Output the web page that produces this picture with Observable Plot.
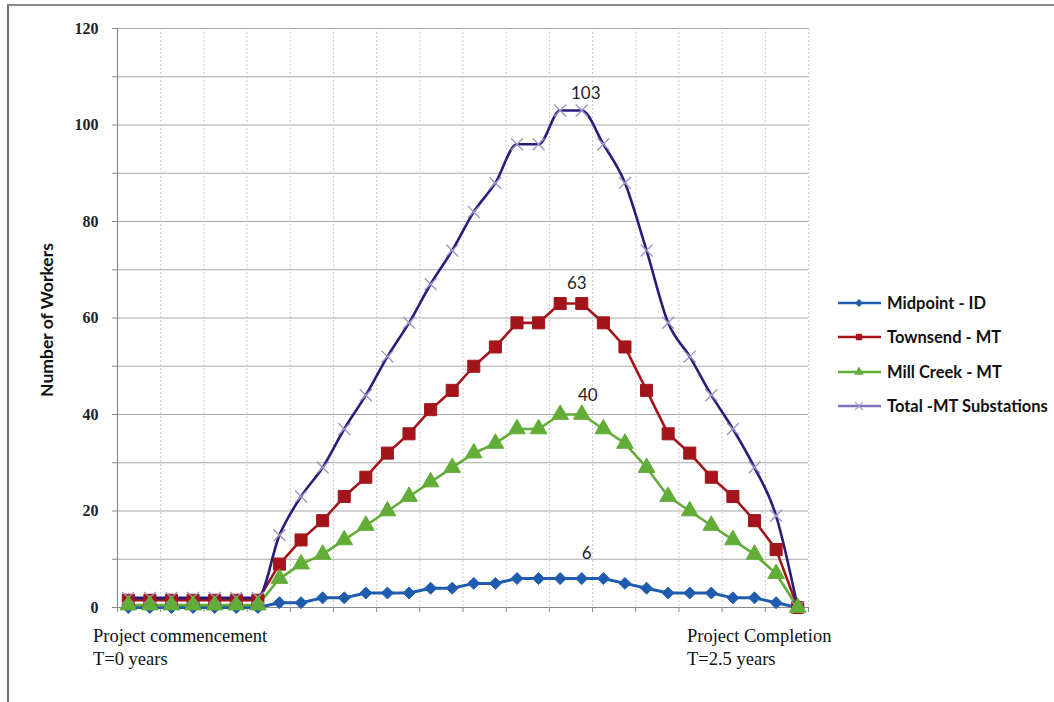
<!DOCTYPE html>
<html>
<head>
<meta charset="utf-8">
<script src="https://cdn.jsdelivr.net/npm/d3@7"></script>
<script src="https://cdn.jsdelivr.net/npm/@observablehq/plot@0.6"></script>
<style>
  html, body { margin: 0; padding: 0; background: #fff; }
  #wrap { position: relative; width: 1054px; height: 702px; overflow: hidden; background: #fff; }
  #frame { position: absolute; left: 7px; top: 4px; width: 1060px; height: 710px; border-left: 2px solid #6f6f6f; border-top: 2px solid #8a8a8a; box-sizing: border-box; }
  #chart { position: absolute; left: 0; top: 0; }
  .ann { position: absolute; font-family: "Liberation Serif", "DejaVu Serif", serif; font-size: 18.5px; color: #111; line-height: 23px; white-space: nowrap; }
  #ytitle { position: absolute; left: 46px; top: 320px; transform: translate(-50%, -50%) rotate(-90deg); font-family: Lato, "Open Sans", sans-serif; font-weight: bold; font-size: 17.5px; color: #111; white-space: nowrap; }
  #legend { position: absolute; left: 838px; top: 286px; font-family: Lato, "Open Sans", sans-serif; font-weight: bold; font-size: 16.5px; color: #111; }
  .li { display: flex; align-items: center; height: 34.3px; white-space: nowrap; }
  .li svg { margin-right: 5px; }
</style>
</head>
<body>
<div id="wrap">
  <div id="frame"></div>
  <div id="chart"></div>
  <div id="ytitle">Number of Workers</div>
  <div class="ann" style="left:93px; top:625px;">Project commencement<br>T=0 years</div>
  <div class="ann" style="left:687px; top:625px;">Project Completion<br>T=2.5 years</div>
  <div id="legend"></div>
</div>
<script>
// ---- data ----
const periods = d3.range(32); // 32 evenly spaced periods from T=0 to T=2.5 years
const midpoint  = [0,0,0,0,0,0,0, 1,1,2,2,3,3,3,4,4,5,5,6,6,6,6,6,5,4,3,3,3,2,2,1,0];
const townsend  = [1.5,1.5,1.5,1.5,1.5,1.5,1.5, 9,14,18,23,27,32,36,41,45,50,54,59,59,63,63,59,54,45,36,32,27,23,18,12,0];
const millCreek = [0.5,0.5,0.5,0.5,0.5,0.5,0.5, 6,9,11,14,17,20,23,26,29,32,34,37,37,40,40,37,34,29,23,20,17,14,11,7,0];
const totalMT   = [2,2,2,2,2,2,2, 15,23,29,37,44,52,59,67,74,82,88,96,96,103,103,96,88,74,59,52,44,37,29,19,0];
const seriesNames = ["Midpoint - ID", "Townsend - MT", "Mill Creek - MT", "Total -MT Substations"];
const yTickLabels = [0, 20, 40, 60, 80, 100, 120];
const yGridValues = [0, 10, 20, 30, 40, 50, 60, 70, 80, 90, 100, 110, 120];
const peakIndex = 21;
const peakLabels = [6, 63, 40, 103];

// ---- build table ----
const valuesBySeries = [midpoint, townsend, millCreek, totalMT];
const styles = [
  {stroke: "#1f5cb0", fill: "#1f5cb0", symbol: "diamond2", r: 5.4, curve: "linear", sw: 3},
  {stroke: "#a3151b", fill: "#a3151b", symbol: "square", r: 6.8, curve: "linear", sw: 2.6},
  {stroke: "#62ac38", fill: "#62ac38", symbol: "triangle", r: 6.2, curve: "linear", sw: 2.6},
  {stroke: "#2c1c7a", fill: "none", symbol: "times", r: 5.5, curve: "monotone-x", sw: 2.6, mstroke: "#9d95c9"}
];
const rows = valuesBySeries.map((vals, s) => periods.map(i => ({i, v: vals[i], s: seriesNames[s]})));
const xGrid = d3.range(-0.5, 32, 2);

const marks = [
  Plot.ruleY(yGridValues, {stroke: "#a9a9a9", strokeWidth: 1}),
  Plot.ruleX(xGrid, {stroke: "#cbcbcb", strokeWidth: 1, strokeDasharray: "2,2"}),
  Plot.axisX({ticks: xGrid, tickSize: 5, tickFormat: () => "", stroke: "#8a8a8a", label: null}),
  Plot.axisY({ticks: yGridValues, tickSize: 5, tickFormat: () => "", stroke: "#8a8a8a", label: null}),
  Plot.axisY({ticks: yTickLabels, tickSize: 0, tickPadding: 19, label: null,
    fontFamily: "Liberation Serif, serif", fontWeight: "bold", fontSize: 16, fill: "#222"}),
  Plot.ruleX([-0.5], {stroke: "#8a8a8a", strokeWidth: 1.2}),
  Plot.ruleY([0], {stroke: "#8a8a8a", strokeWidth: 1.2})
];
rows.forEach((data, s) => {
  const st = styles[s];
  marks.push(Plot.line(data, {x: "i", y: "v", stroke: st.stroke, strokeWidth: st.sw, curve: st.curve}));
});
[0, 1, 3, 2].forEach(s => {
  const st = styles[s];
  if (st.symbol === "times") {
    marks.push(Plot.dot(rows[s], {x: "i", y: "v", symbol: "times", r: st.r, stroke: st.mstroke, strokeWidth: 1.4}));
  } else {
    marks.push(Plot.dot(rows[s], {x: "i", y: "v", symbol: st.symbol, r: st.r, fill: st.fill, stroke: st.fill, strokeWidth: 1}));
  }
});
const labelOffsets = [[5, -25], [-5, -20], [6, -19], [4, -17]];
peakLabels.forEach((v, k) => {
  marks.push(Plot.text([{i: peakIndex, v}], {x: "i", y: "v", text: d => String(d.v),
    dx: labelOffsets[k][0], dy: labelOffsets[k][1],
    fontFamily: "Lato, 'Open Sans', sans-serif", fontSize: 17, fill: "#222"}));
});

const chart = Plot.plot({
  width: 1054, height: 702,
  marginLeft: 117, marginRight: 246, marginTop: 28, marginBottom: 95,
  x: {domain: [-0.5, 31.5], axis: null},
  y: {domain: [0, 120], axis: null},
  style: {background: "transparent", overflow: "visible"},
  marks
});
document.getElementById("chart").appendChild(chart);

// ---- legend ----
const legend = document.getElementById("legend");
const ns = "http://www.w3.org/2000/svg";
seriesNames.forEach((name, s) => {
  const st = styles[s];
  const div = document.createElement("div");
  div.className = "li";
  const svg = document.createElementNS(ns, "svg");
  svg.setAttribute("width", 44); svg.setAttribute("height", 14);
  const line = document.createElementNS(ns, "line");
  line.setAttribute("x1", 0); line.setAttribute("x2", 43); line.setAttribute("y1", 7); line.setAttribute("y2", 7);
  line.setAttribute("stroke", s === 3 ? "#7d72c0" : st.stroke); line.setAttribute("stroke-width", 2.4);
  svg.appendChild(line);
  const path = document.createElementNS(ns, "path");
  const sym = {diamond2: d3.symbolDiamond2, square: d3.symbolSquare, triangle: d3.symbolTriangle, times: d3.symbolTimes}[st.symbol];
  path.setAttribute("d", d3.symbol(sym, Math.PI * 3.6 * 3.6)());
  path.setAttribute("transform", "translate(21,7)");
  if (st.symbol === "times") { path.setAttribute("fill", "none"); path.setAttribute("stroke", "#9d95c9"); path.setAttribute("stroke-width", 1.3); }
  else { path.setAttribute("fill", st.fill); }
  svg.appendChild(path);
  div.appendChild(svg);
  const span = document.createElement("span");
  span.textContent = name;
  div.appendChild(span);
  legend.appendChild(div);
});
</script>
</body>
</html>
